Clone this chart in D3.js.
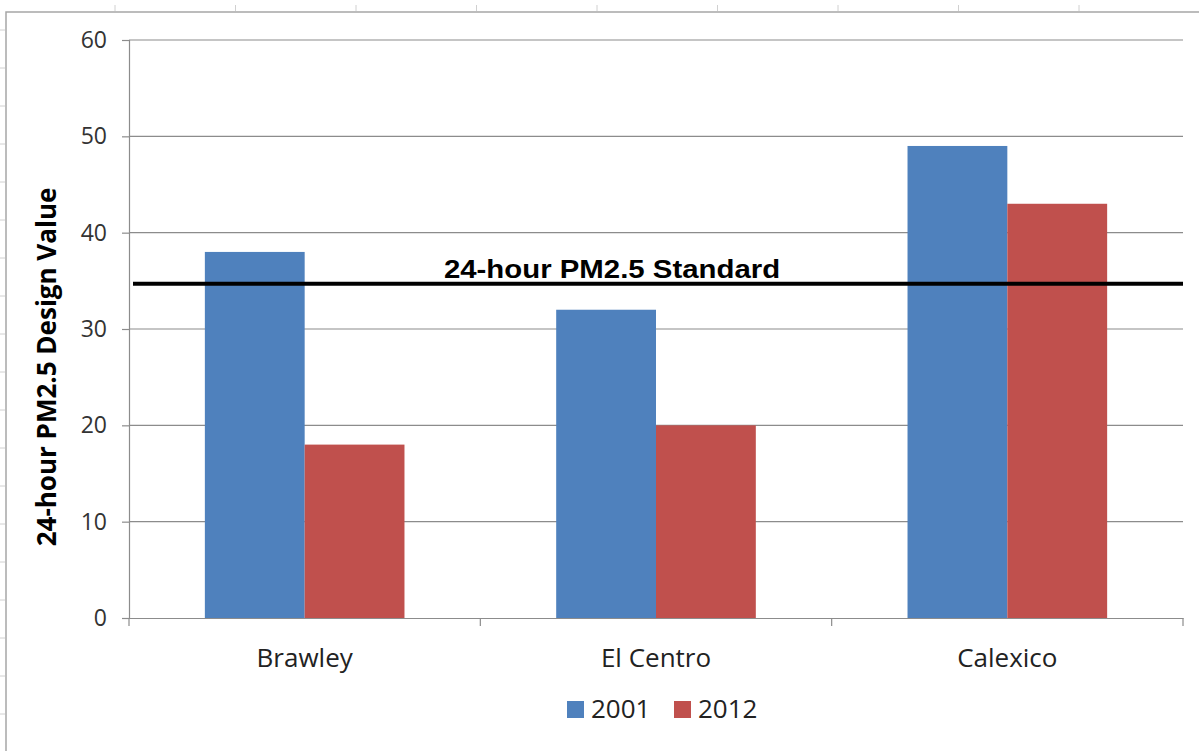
<!DOCTYPE html>
<html>
<head>
<meta charset="utf-8">
<script src="https://cdn.jsdelivr.net/npm/d3@7"></script>
<style>
  html, body { margin: 0; padding: 0; background: #fff; }
  svg { display: block; }
</style>
</head>
<body>
<div id="chart"></div>
<script>
const sites = ['Brawley', 'El Centro', 'Calexico']
const years = ['2001', '2012']
const values2001 = [38, 32, 49]
const values2012 = [18, 20, 43]
const standard = 34.7
const yTicks = [0, 10, 20, 30, 40, 50, 60]

const width = 1199
const height = 751
const margin = { top: 40, right: 16, bottom: 133, left: 129 }
const colors = { '2001': '#4f81bd', '2012': '#c0504d' }
const font = "'Open Sans', 'Noto Sans', sans-serif"

const svg = d3.select('#chart').append('svg')
      .attr('width', width)
      .attr('height', height)

// spreadsheet frame behind the chart
svg.append('path')
  .attr('d', `M6,${height}V12H${width}`)
  .attr('fill', 'none')
  .attr('stroke', '#a6a6a6')
  .attr('stroke-width', 1.5)
svg.append('g').selectAll('line')
  .data(d3.range(30, height, 38))
  .join('line')
  .attr('x1', 0).attr('x2', 5)
  .attr('y1', d => d).attr('y2', d => d)
  .attr('stroke', '#d0d0d0')
svg.append('g').selectAll('line')
  .data(d3.range(115, width, 120.5))
  .join('line')
  .attr('x1', d => d).attr('x2', d => d)
  .attr('y1', 5).attr('y2', 11)
  .attr('stroke', '#d0d0d0')

const x = d3.scaleBand()
      .domain(sites)
      .range([margin.left, width - margin.right])
const xInner = d3.scaleBand()
      .domain(years)
      .range([0, x.bandwidth()])
      .paddingOuter(0.76)
const y = d3.scaleLinear()
      .domain([0, 60])
      .range([height - margin.bottom, margin.top])

// gridlines
svg.append('g').selectAll('line')
  .data(yTicks.filter(d => d > 0))
  .join('line')
  .attr('x1', margin.left).attr('x2', width - margin.right)
  .attr('y1', d => y(d)).attr('y2', d => y(d))
  .attr('stroke', '#8c8c8c')
  .attr('stroke-width', 1.2)

// y axis
const yAxis = svg.append('g')
      .attr('transform', `translate(${margin.left},0)`)
      .call(d3.axisLeft(y).tickValues(yTicks).tickSize(7).tickPadding(15))
yAxis.selectAll('line, path').attr('stroke', '#8c8c8c').attr('stroke-width', 1.2)
yAxis.selectAll('text')
  .attr('font-family', font)
  .attr('font-size', 23)
  .attr('fill', '#333')

// x axis
const xAxis = svg.append('g')
      .attr('transform', `translate(0,${y(0)})`)
      .call(d3.axisBottom(x).tickSize(0).tickPadding(31))
xAxis.select('path').attr('stroke', '#8c8c8c').attr('stroke-width', 1.2)
xAxis.selectAll('text')
  .attr('font-family', font)
  .attr('font-size', 26)
  .attr('fill', '#222')
svg.append('g').selectAll('line')
  .data(sites.map(d => x(d)).concat([x(sites[sites.length - 1]) + x.bandwidth()]))
  .join('line')
  .attr('x1', d => d).attr('x2', d => d)
  .attr('y1', y(0)).attr('y2', y(0) + 8)
  .attr('stroke', '#8c8c8c')
  .attr('stroke-width', 1.2)

// bars
const rows = sites.map((site, i) => ({ site, values: [values2001[i], values2012[i]] }))
svg.append('g').selectAll('g')
  .data(rows)
  .join('g')
  .attr('transform', d => `translate(${x(d.site)},0)`)
  .selectAll('rect')
  .data(d => d.values.map((v, j) => ({ year: years[j], value: v })))
  .join('rect')
  .attr('x', d => xInner(d.year))
  .attr('width', xInner.bandwidth())
  .attr('y', d => y(d.value))
  .attr('height', d => y(0) - y(d.value))
  .attr('fill', d => colors[d.year])

// standard line
svg.append('line')
  .attr('x1', margin.left + 4).attr('x2', width - margin.right)
  .attr('y1', y(standard)).attr('y2', y(standard))
  .attr('stroke', '#000')
  .attr('stroke-width', 4)
svg.append('text')
  .attr('transform', `translate(612,${y(standard) - 6}) scale(1.13,1)`)
  .attr('text-anchor', 'middle')
  .attr('font-family', "'Liberation Sans', Arial, sans-serif")
  .attr('font-weight', 'bold')
  .attr('font-size', 26)
  .text('24-hour PM2.5 Standard')

// y title
svg.append('text')
  .attr('transform', `translate(56,367) rotate(-90)`)
  .attr('text-anchor', 'middle')
  .attr('font-family', font)
  .attr('font-weight', 'bold')
  .attr('font-size', 26)
  .text('24-hour PM2.5 Design Value')

// legend
const legend = svg.append('g')
      .attr('transform', 'translate(567,709)')
const item = legend.selectAll('g')
      .data(years)
      .join('g')
      .attr('transform', (d, i) => `translate(${i * 107},0)`)
item.append('rect')
  .attr('x', 0).attr('y', -8)
  .attr('width', 17).attr('height', 17)
  .attr('fill', d => colors[d])
item.append('text')
  .attr('x', 24)
  .attr('dy', '0.36em')
  .attr('font-family', font)
  .attr('font-size', 26)
  .attr('fill', '#222')
  .text(d => d)
</script>
</body>
</html>
